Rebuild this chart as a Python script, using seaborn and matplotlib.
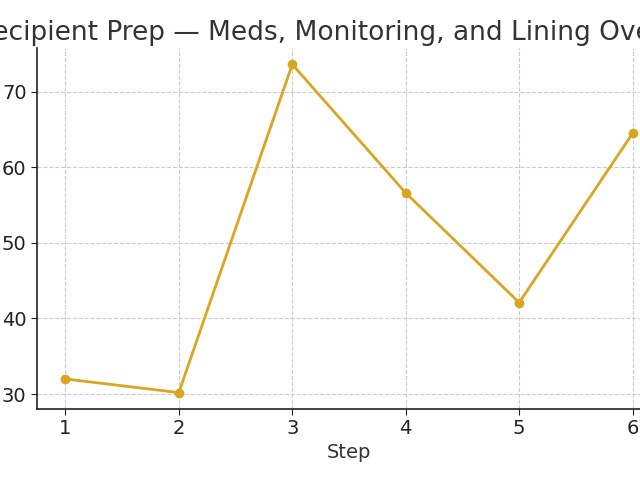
import numpy as np
import pandas as pd
import matplotlib
matplotlib.use("Agg")
import matplotlib.pyplot as plt
import seaborn as sns

# data
steps = [1, 2, 3, 4, 5, 6]
values = [32.0, 30.2, 73.6, 56.6, 42.1, 64.5]
title = "Recipient Prep — Meds, Monitoring, and Lining Overview"

df = pd.DataFrame({"Step": steps, "Value": values})

sns.set_style("ticks")
plt.rcParams["font.family"] = ["DejaVu Sans"]

fig = plt.figure(figsize=(6.4, 4.8), dpi=100)
# axes run past the right edge, like the cropped original
ax = fig.add_axes([37 / 640, 71 / 480, 624 / 640, 361 / 480])

sns.lineplot(data=df, x="Step", y="Value", ax=ax, color="#DAA520",
             linewidth=2, marker="o", markersize=7, markeredgewidth=0)

ax.grid(True, linestyle="--", color="#cccccc", linewidth=0.8)
ax.set_axisbelow(True)
sns.despine(ax=ax)
for s in ["left", "bottom"]:
    ax.spines[s].set_linewidth(1.2)
    ax.spines[s].set_color("#222222")

ax.set_xticks(steps)
ax.tick_params(labelsize=14, colors="#222222", length=4)
ax.set_xlabel("Step", fontsize=14, color="#333333", labelpad=3)
ax.set_ylabel("")
ax.set_title(title, fontsize=19, color="#333333", pad=6)

fig.savefig("out.png", dpi=100)
